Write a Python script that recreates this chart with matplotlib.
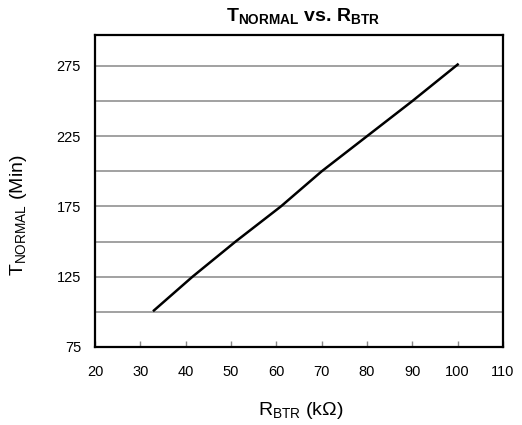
import matplotlib
matplotlib.use('Agg')
import matplotlib.pyplot as plt

plt.rcParams['font.family'] = ['Liberation Sans', 'DejaVu Sans']
plt.rcParams['mathtext.fontset'] = 'custom'
plt.rcParams['mathtext.rm'] = 'Liberation Sans'
plt.rcParams['mathtext.bf'] = 'Liberation Sans:bold'
plt.rcParams['mathtext.it'] = 'Liberation Sans:italic'

# values
r_btr = [33, 41.5, 51, 61, 70, 80, 90, 100]
t_normal = [101, 125, 150, 175, 200, 225, 250, 276]

x_ticks = [20, 30, 40, 50, 60, 70, 80, 90, 100, 110]
y_ticks = [75, 125, 175, 225, 275]
y_grid = [100, 125, 150, 175, 200, 225, 250, 275]

fig = plt.figure(figsize=(5.22, 4.25), dpi=100)
ax = fig.add_axes([95/522, 1 - 347/425, 408/522, 312/425])

for g in y_grid:
    ax.axhline(g, color='#9a9a9a', lw=1.3, zorder=1)

ax.plot(r_btr, t_normal, color='black', lw=1.8, zorder=3)

ax.set_xlim(20, 110)
ax.set_ylim(75, 297)
ax.set_xticks(x_ticks)
ax.set_yticks(y_ticks)
ax.tick_params(axis='x', direction='in', length=4, width=1, color='#888888',
               pad=13, labelsize=10.5)
ax.tick_params(axis='y', length=0, pad=10, labelsize=10.5)
for s in ax.spines.values():
    s.set_linewidth(1.6)
    s.set_color('black')

fig.text(303/522, 1 - 21/425, r'$\mathbf{T_{NORMAL}}$ vs. $\mathbf{R_{BTR}}$',
         ha='center', va='baseline', fontsize=14, fontweight='bold')
fig.text(301/522, 1 - 415/425, r'$\mathrm{R_{BTR}}$ (kΩ)',
         ha='center', va='baseline', fontsize=14)
fig.text(19/522, 1 - 215/425, r'$\mathrm{T_{NORMAL}}$ (Min)',
         ha='center', va='center', rotation=90, fontsize=14)

fig.savefig('out.png', dpi=100)
